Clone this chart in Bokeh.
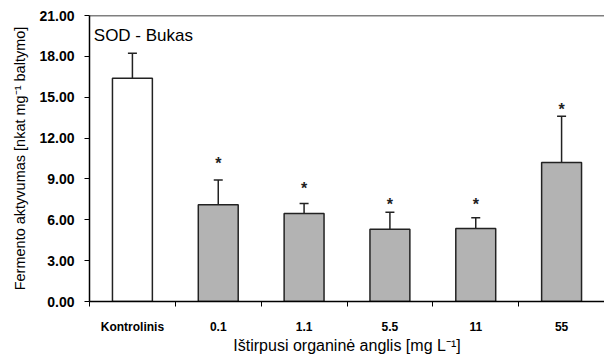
from bokeh.plotting import figure
from bokeh.models import ColumnDataSource, FixedTicker, Span, Whisker, TeeHead, Range1d
from bokeh.core.properties import value
from bokeh.embed import file_html
from bokeh.resources import INLINE

categories = ["Kontrolinis", "0.1", "1.1", "5.5", "11", "55"]
means = [16.4, 7.1, 6.46, 5.3, 5.36, 10.2]
errors = [1.83, 1.83, 0.74, 1.26, 0.79, 3.4]
colors = ["#ffffff", "#b3b3b3", "#b3b3b3", "#b3b3b3", "#b3b3b3", "#b3b3b3"]
star_y = [None, 10.4, 8.59, 7.42, 7.42, 14.39]
y_ticks = [0, 3, 6, 9, 12, 15, 18, 21]

FONT = "Liberation Sans"

xs = [i + 0.5 for i in range(len(categories))]
src = ColumnDataSource(dict(
    x=xs, top=means, upper=[m + e for m, e in zip(means, errors)], color=colors))

p = figure(width=604, height=358, output_backend="svg", toolbar_location=None,
           x_range=Range1d(0, len(categories)), y_range=Range1d(0, 21),
           min_border_left=89, min_border_right=0, min_border_top=15, min_border_bottom=57)
p.outline_line_color = None
p.grid.visible = False
p.background_fill_color = "white"
p.border_fill_color = "white"

p.vbar(x="x", top="top", bottom=0, width=0.465, fill_color="color",
       line_color="#222222", line_width=1.5, source=src)

w = Whisker(base="x", lower="top", upper="upper", source=src, dimension="height",
            line_color="#222222", line_width=1.5,
            upper_head=TeeHead(size=9, line_color="#222222", line_width=1.5),
            lower_head=None)
p.add_layout(w)

sx = [x for x, s in zip(xs, star_y) if s is not None]
sy = [s for s in star_y if s is not None]
p.text(x=sx, y=sy, text=["*"] * len(sx), text_align="center", text_baseline="middle",
       y_offset=4, text_font=value(FONT), text_font_size="16px", text_font_style="bold",
       text_color="#222222")

p.text(x=[0.05], y=[19.5], text=["SOD - Bukas"], text_align="left", text_baseline="middle",
       text_font=value(FONT), text_font_size="17px", text_color="black")

p.add_layout(Span(location=21, dimension="width", line_color="black", line_width=1.5))

# x axis
xa = p.xaxis[0]
xa.ticker = FixedTicker(ticks=xs, minor_ticks=list(range(len(categories) + 1)))
xa.major_label_overrides = {x: c for x, c in zip(xs, categories)}
xa.major_tick_out = 0
xa.major_tick_in = 0
xa.minor_tick_out = 5
xa.minor_tick_in = 0
xa.minor_tick_line_color = "black"
xa.axis_line_color = "black"
xa.axis_line_width = 1.5
xa.major_label_standoff = 13
xa.major_label_text_font = FONT
xa.major_label_text_font_size = "12px"
xa.major_label_text_font_style = "bold"
xa.major_label_text_color = "black"
xa.axis_label = "Ištirpusi organinė anglis [mg L⁻¹]"
xa.axis_label_text_font = FONT
xa.axis_label_text_font_size = "16px"
xa.axis_label_text_font_style = "normal"
xa.axis_label_standoff = 0
xa.axis_label_text_color = "black"

# y axis
ya = p.yaxis[0]
ya.ticker = FixedTicker(ticks=y_ticks, minor_ticks=[])
ya.major_label_overrides = {t: f"{t:.2f}" for t in y_ticks}
ya.major_tick_out = 5
ya.major_tick_in = 0
ya.major_tick_line_color = "black"
ya.axis_line_color = "black"
ya.axis_line_width = 1.5
ya.major_label_standoff = 10
ya.major_label_text_font = FONT
ya.major_label_text_font_size = "14px"
ya.major_label_text_font_style = "bold"
ya.major_label_text_color = "black"
ya.axis_label = "Fermento aktyvumas [nkat mg⁻¹ baltymo]"
ya.axis_label_text_font = FONT
ya.axis_label_text_font_size = "14.5px"
ya.axis_label_text_font_style = "normal"
ya.axis_label_standoff = 8
ya.axis_label_text_color = "black"

open("out.html", "w").write(file_html(p, INLINE))
